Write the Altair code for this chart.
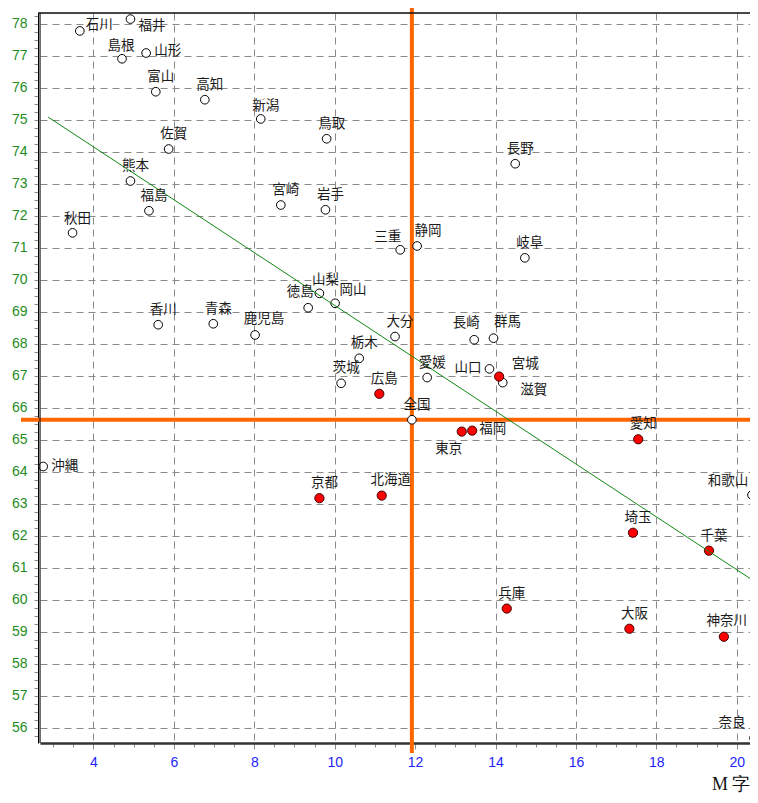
import altair as alt
import pandas as pd

# ---- data ----
names = ["石川", "福井", "島根", "山形", "富山", "高知", "新潟", "鳥取", "佐賀", "長野",
         "熊本", "宮崎", "岩手", "福島", "秋田", "三重", "静岡", "岐阜", "山梨", "岡山",
         "徳島", "香川", "青森", "鹿児島", "大分", "長崎", "群馬", "栃木", "茨城", "広島",
         "愛媛", "山口", "宮城", "滋賀", "全国", "東京", "福岡", "京都", "北海道", "沖縄",
         "愛知", "和歌山", "埼玉", "千葉", "兵庫", "大阪", "神奈川", "奈良"]
x_vals = [3.66, 4.92, 4.71, 5.31, 5.55, 6.77, 8.16, 9.80, 5.87, 14.49,
          4.92, 8.66, 9.77, 5.38, 3.48, 11.63, 12.05, 14.73, 9.62, 10.01,
          9.34, 5.61, 6.98, 8.02, 11.50, 13.47, 13.95, 10.61, 10.16, 11.11,
          12.30, 13.85, 14.09, 14.18, 11.92, 13.16, 13.42, 9.62, 11.17, 2.75,
          17.55, 20.38, 17.42, 19.31, 14.28, 17.33, 19.68, 20.43]
y_vals = [77.78, 78.15, 76.91, 77.09, 75.88, 75.63, 75.03, 74.41, 74.09, 73.63,
          73.09, 72.34, 72.19, 72.16, 71.47, 70.94, 71.06, 70.69, 69.58, 69.27,
          69.13, 68.60, 68.63, 68.28, 68.23, 68.13, 68.18, 67.55, 66.77, 66.44,
          66.95, 67.22, 66.98, 66.79, 65.63, 65.26, 65.29, 63.18, 63.26, 64.17,
          65.02, 63.28, 62.10, 61.54, 59.73, 59.10, 58.85, 55.68]
red_names = ["広島", "宮城", "東京", "福岡", "愛知", "京都", "北海道", "埼玉",
             "千葉", "兵庫", "大阪", "神奈川"]
national = "全国"

# regression line end points
reg_x = [2.87, 20.6]
reg_y = [75.09, 60.45]

# axis ticks
x_ticks = [k / 2 for k in range(6, 41)]      # 3.0 .. 20.0
y_ticks = [k / 4 for k in range(223, 314)]   # 55.75 .. 78.25

# ---- label placement (style) ----
default_place = ("center", 5, -15)
label_place = {
    "石川": ("left", 6, -6), "福井": ("left", 8, 7), "山形": ("left", 8, -2),
    "島根": ("center", -1, -13), "新潟": ("center", 5, -13), "三重": ("right", 1, -13),
    "静岡": ("center", 11, -15), "群馬": ("center", 14, -16), "宮城": ("center", 26, -13),
    "滋賀": ("center", 31, 7), "山梨": ("center", 6, -13), "徳島": ("center", -8, -16),
    "岡山": ("center", 18, -13), "鹿児島": ("center", 9, -16), "長崎": ("center", -8, -17),
    "山口": ("right", -8, -1), "東京": ("center", -13, 17), "福岡": ("left", 7, -2),
    "北海道": ("center", 9, -16), "沖縄": ("left", 8, 0), "和歌山": ("center", -24, -14),
    "神奈川": ("center", 3, -16), "奈良": ("center", -22, -15), "秋田": ("center", 5, -14),
}

df = pd.DataFrame({"name": names, "x": x_vals, "y": y_vals})
df["kind"] = ["red" if n in red_names else "white" for n in names]
nat_df = df[df["name"] == national]
reg_df = pd.DataFrame({"x": reg_x, "y": reg_y})

W, H = 710, 730
xscale = alt.Scale(domain=[2.67, 20.33], nice=False, zero=False)
yscale = alt.Scale(domain=[55.53, 78.34], nice=False, zero=False)

xaxis = alt.Axis(
    values=x_ticks,
    labelExpr="datum.value % 2 === 0 ? format(datum.value, 'd') : ''",
    labelColor="#2323ff", labelFont="Liberation Sans", labelFontSize=14,
    labelPadding=6, labelOverlap=False, labelFlush=False,
    grid=True, gridColor="#8a8a8a", gridDash=[7, 5], gridWidth=1,
    gridOpacity={"condition": {"test": "datum.value % 2 === 0 && datum.value !== 12",
                               "value": 1}, "value": 0},
    ticks=True, tickColor="#888",
    tickSize={"condition": {"test": "datum.value % 2 === 0", "value": 6}, "value": 4},
    domainColor="#333", domainWidth=2.5,
    title="M 字", titleFont="Liberation Serif", titleFontSize=18,
    titleFontWeight="normal", titleColor="#111",
    titleAnchor="end", titleAlign="right", titleBaseline="alphabetic",
    titleX=710, titleY=46,
)
yaxis = alt.Axis(
    values=y_ticks,
    labelExpr="datum.value % 1 === 0 ? format(datum.value, 'd') : ''",
    labelColor="#1e8c1e", labelFont="Liberation Sans", labelFontSize=14,
    labelPadding=7, labelOverlap=False, labelFlush=False, labelBaseline="middle",
    grid=True, gridColor="#8a8a8a", gridDash=[7, 5], gridWidth=1,
    gridOpacity={"condition": {"test": "datum.value % 1 === 0", "value": 1}, "value": 0},
    ticks=True, tickColor="#888", tickSize=4,
    domainColor="#000", domainWidth=1, offset=2,
    title=None,
)

X = alt.X("x:Q", scale=xscale, axis=xaxis)
Y = alt.Y("y:Q", scale=yscale, axis=yaxis)

vrule = alt.Chart(nat_df).mark_rule(color="#FF6600", strokeWidth=4).encode(
    x=X, y=alt.value(-5), y2=alt.value(H + 10))
hrule = alt.Chart(nat_df).mark_rule(color="#FF6600", strokeWidth=4).encode(
    y=Y, x=alt.value(-19), x2=alt.value(W))

white_pts = alt.Chart(df).transform_filter(alt.datum.kind == "white").mark_point(
    shape="circle", filled=True, fill="white", stroke="#000", strokeWidth=1,
    size=75, opacity=1).encode(x=X, y=Y)
red_pts = alt.Chart(df).transform_filter(alt.datum.kind == "red").mark_point(
    shape="circle", filled=True, fill="#FF0000", stroke="#400000", strokeWidth=1,
    size=85, opacity=1).encode(x=X, y=Y)

reg_line = alt.Chart(reg_df).mark_line(color="#118811", strokeWidth=1, clip=True).encode(
    x=X, y=Y)

# labels grouped by placement
groups = {}
for n in names:
    groups.setdefault(label_place.get(n, default_place), []).append(n)
text_layers = []
for (align, dx, dy), members in groups.items():
    text_layers.append(
        alt.Chart(df).transform_filter(
            alt.FieldOneOfPredicate(field="name", oneOf=members)
        ).mark_text(align=align, baseline="middle", dx=dx, dy=dy,
                    font="Noto Sans CJK JP", fontSize=13.5, color="#1a1a1a"
        ).encode(x=X, y=Y, text="name:N")
    )

top_border = alt.Chart(nat_df).mark_rule(color="#111", strokeWidth=1.5).encode(
    x=alt.value(-2), x2=alt.value(W), y=alt.value(0))
left_inner = alt.Chart(nat_df).mark_rule(color="#000", strokeWidth=1).encode(
    x=alt.value(0), y=alt.value(0), y2=alt.value(H))

chart = alt.layer(
    vrule, hrule, white_pts, red_pts, reg_line, *text_layers, top_border, left_inner
).properties(
    width=W, height=H,
    autosize=alt.AutoSizeParams(type="none"),
    padding={"left": 32, "top": 5, "right": 0, "bottom": 51},
).configure_view(stroke=None).configure(background="white")

chart.save("out.html", embed_options={"renderer": "svg", "actions": False})
